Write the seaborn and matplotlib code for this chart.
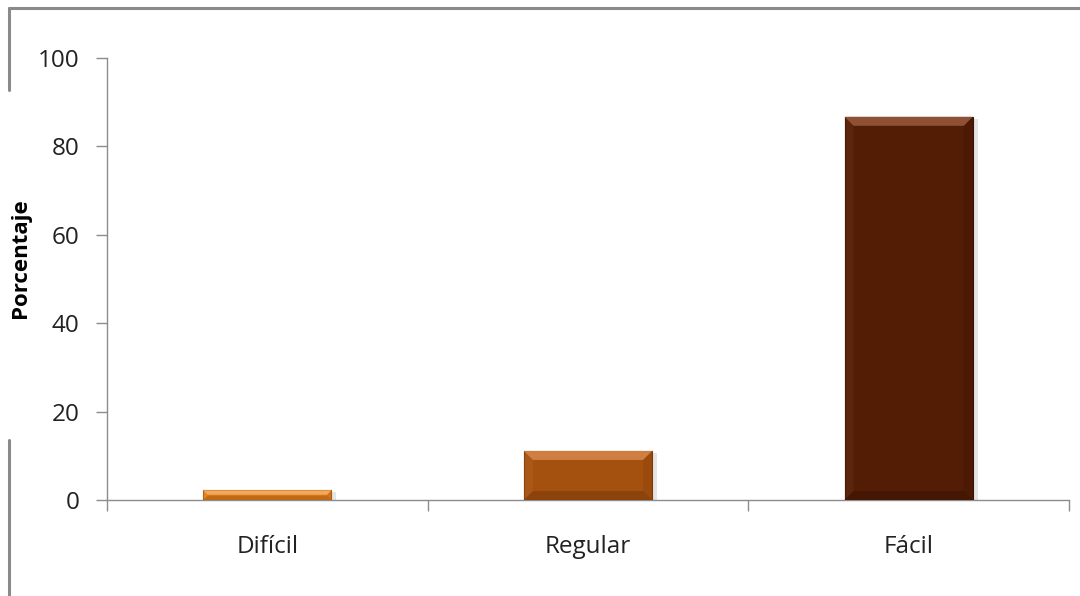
import matplotlib
matplotlib.use("Agg")
import matplotlib.pyplot as plt
from matplotlib.lines import Line2D
from matplotlib.patches import Polygon, Rectangle
import seaborn as sns
import pandas as pd

categorias = ["Difícil", "Regular", "Fácil"]
porcentajes = [2.2, 11.1, 86.7]
colores = ["#E07E1E", "#A4500E", "#521C05"]
claros = ["#F6AE60", "#D58447", "#95583C"]
oscuros = ["#A65A12", "#7A3A0A", "#3A1203"]

sns.set_theme(style="white")
plt.rcParams["font.family"] = ["Open Sans", "DejaVu Sans"]

df = pd.DataFrame({"Categoria": categorias, "Porcentaje": porcentajes})

fig = plt.figure(figsize=(10.8, 5.96), dpi=100)
ax = fig.add_axes([107 / 1080, 1 - 500 / 596, (1069 - 107) / 1080, (500 - 58) / 596])

sns.barplot(data=df, x="Categoria", y="Porcentaje", hue="Categoria",
            palette=colores, saturation=1, width=0.4, legend=False, ax=ax,
            edgecolor="none", linewidth=0, zorder=3)

ax.set_xlim(-0.5, 2.5)
ax.set_ylim(0, 100)

# Bevelled bars: soft shadow plus light top / dark bottom facets
px_x = (2.5 - (-0.5)) / (1069 - 107)   # data units per pixel, x
px_y = 100 / (500 - 58)                # data units per pixel, y
for bar, luz, sombra_c in zip(ax.patches, claros, oscuros):
    x, y = bar.get_x(), bar.get_y()
    w, h = bar.get_width(), bar.get_height()
    ax.add_patch(Rectangle((x + 3 * px_x, y), w + 2 * px_x, h - 2 * px_y,
                           facecolor="#000000", alpha=0.10, edgecolor="none", zorder=2))
    b = min(9, h / px_y / 2.2)
    bx, by = b * px_x, b * px_y
    top = y + h
    ax.add_patch(Polygon([(x, top), (x + w, top), (x + w - bx, top - by), (x + bx, top - by)],
                         closed=True, facecolor=luz, edgecolor="none", alpha=0.9, zorder=4))
    ax.add_patch(Polygon([(x, y), (x + w, y), (x + w - bx, y + by), (x + bx, y + by)],
                         closed=True, facecolor=sombra_c, edgecolor="none", alpha=0.55, zorder=4))
    ax.add_patch(Polygon([(x + w, y), (x + w, top), (x + w - bx, top - by), (x + w - bx, y + by)],
                         closed=True, facecolor=sombra_c, edgecolor="none", alpha=0.25, zorder=4))
    ax.add_patch(Polygon([(x, y), (x, top), (x + bx, top - by), (x + bx, y + by)],
                         closed=True, facecolor=luz, edgecolor="none", alpha=0.15, zorder=4))
    bar.set_edgecolor(sombra_c)
    bar.set_linewidth(0.8)
    bar.set_zorder(3)

ax.set_yticks([0, 20, 40, 60, 80, 100])
ax.set_xticks([0, 1, 2])
ax.set_xticklabels(categorias)
ax.set_xlabel("")
ax.set_ylabel("Porcentaje", fontsize=16, fontweight="bold", color="black")
ax.yaxis.set_label_coords((31 - 107) / 962, (500 - 258) / 442)

for lado in ("top", "right"):
    ax.spines[lado].set_visible(False)
for lado in ("left", "bottom"):
    ax.spines[lado].set_color("#8c8c8c")
    ax.spines[lado].set_linewidth(1.0)

ax.tick_params(axis="y", which="major", direction="out", length=8, width=1,
               color="#8c8c8c", labelsize=17.5, labelcolor="#222222", pad=12, left=True)
ax.tick_params(axis="x", which="major", length=0, labelsize=17.5,
               labelcolor="#222222", pad=25)
# Category separators on the x axis
ax.set_xticks([-0.5, 0.5, 1.5, 2.5], minor=True)
ax.tick_params(axis="x", which="minor", direction="out", length=8, width=1,
               color="#8c8c8c", bottom=True)
ax.yaxis.set_ticks_position("left")

# Outer chart frame
borde = "#8a8a8a"
fig.add_artist(Line2D([9 / 1080, 1.0], [1 - 8 / 596, 1 - 8 / 596],
                      transform=fig.transFigure, color=borde, lw=2.2))
fig.add_artist(Line2D([9 / 1080, 9 / 1080], [1 - 8 / 596, 1 - 90 / 596],
                      transform=fig.transFigure, color=borde, lw=2.2))
fig.add_artist(Line2D([9 / 1080, 9 / 1080], [1 - 440 / 596, 0.0],
                      transform=fig.transFigure, color=borde, lw=2.2))

fig.savefig("out.png", dpi=100, facecolor="white")
